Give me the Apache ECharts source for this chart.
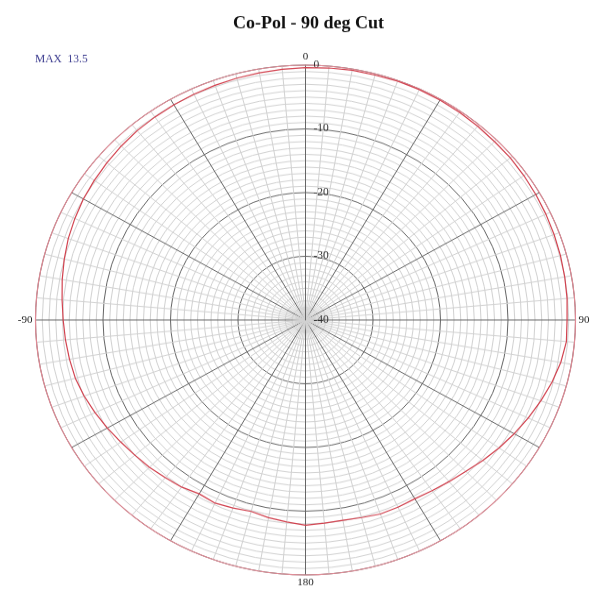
<!DOCTYPE html>
<html>
<head>
<meta charset="utf-8">
<script src="https://cdn.jsdelivr.net/npm/echarts@6/dist/echarts.min.js"></script>
<style>
html,body{margin:0;padding:0;background:#fff;overflow:hidden;}
#wrap{width:591px;height:590px;overflow:hidden;position:relative;}
#chart{width:591px;height:625px;transform:scaleY(0.944);transform-origin:0 0;}
</style>
</head>
<body>
<div id="wrap"><div id="chart"></div></div>
<script>
// Data: angle (deg, clockwise from top) and gain (dB)
const angles = [0,5,10,15,20,25,30,35,40,45,50,55,60,65,70,75,80,85,90,95,100,105,110,115,120,125,130,135,140,145,150,155,160,165,170,175,180,185,190,195,200,205,210,215,220,225,230,235,240,245,250,255,260,265,270,275,280,285,290,295,300,305,310,315,320,325,330,335,340,345,350,355,360];
const gainDb = [-0.4,-0.3,-0.2,-0.2,-0.1,-0.1,-0.15,-0.2,-0.3,-0.4,-0.4,-0.5,-0.6,-0.7,-0.8,-0.9,-1.0,-1.1,-1.25,-1.2,-1.6,-2.2,-2.9,-3.6,-4.3,-5.0,-5.7,-6.4,-6.9,-7.3,-7.6,-7.6,-7.6,-7.9,-8.1,-8.0,-7.8,-8.2,-8.5,-8.9,-8.6,-8.3,-8.5,-8.0,-7.7,-7.3,-7.0,-6.6,-6.1,-5.6,-5.1,-4.7,-4.5,-4.3,-4.1,-3.8,-3.4,-3.0,-2.6,-2.3,-2.0,-1.8,-1.6,-1.4,-1.2,-1.1,-1.0,-0.9,-0.8,-0.7,-0.6,-0.5,-0.4];
const radiusTicks = [-40,-30,-20,-10,0];
const angleLabels = {0:'0',90:'90',180:'180',270:'-90'};
const titleText = 'Co-Pol - 90 deg Cut';
const maxText = 'MAX  13.5';

const S = 0.944;
const chart = echarts.init(document.getElementById('chart'));
const seriesData = angles.map((a,i)=>[gainDb[i], a]);
chart.setOption({
  animation:false,
  backgroundColor:'#fff',
  title:{text:titleText,left:228,top:11/S,
    textStyle:{fontFamily:'Liberation Serif',fontWeight:'bold',fontSize:18,color:'#111'}},
  graphic:[{type:'text',left:35,top:54/S,style:{text:maxText,fontFamily:'Liberation Serif',fontSize:11.5,fill:'#3b3b8f'}}],
  polar:{center:[305.5,320/S],radius:270},
  angleAxis:{type:'value',min:0,max:360,interval:30,startAngle:90,clockwise:true,
    axisLine:{show:true,lineStyle:{color:'#e08a95',width:1.2}},
    axisTick:{show:false},
    axisLabel:{show:true,margin:3,fontFamily:'Liberation Serif',fontSize:11,color:'#222',
      formatter:v=> (angleLabels[v]!==undefined && v!==360)?angleLabels[v]:''},
    splitLine:{show:true,lineStyle:{color:'#666',width:1}},
    minorTick:{show:false,splitNumber:6},
    minorSplitLine:{show:true,lineStyle:{color:'#d2d2d2',width:1}}
  },
  radiusAxis:{type:'value',min:-40,max:0,interval:10,
    axisLine:{show:true,lineStyle:{color:'#666'}},
    axisTick:{show:false},
    axisLabel:{show:true,fontFamily:'Liberation Serif',fontSize:11.5,color:'#333',margin:2,
      align:'left',verticalAlign:'middle',padding:[6,0,0,10],
      formatter:v=>String(v)},
    splitLine:{show:true,lineStyle:{color:'#666',width:1}},
    minorTick:{show:false,splitNumber:10},
    minorSplitLine:{show:true,lineStyle:{color:'#d2d2d2',width:1}}
  },
  series:[{type:'line',coordinateSystem:'polar',data:seriesData,showSymbol:false,smooth:false,
    lineStyle:{color:'#d2424f',width:1.2},z:5}]
});
</script>
</body>
</html>
